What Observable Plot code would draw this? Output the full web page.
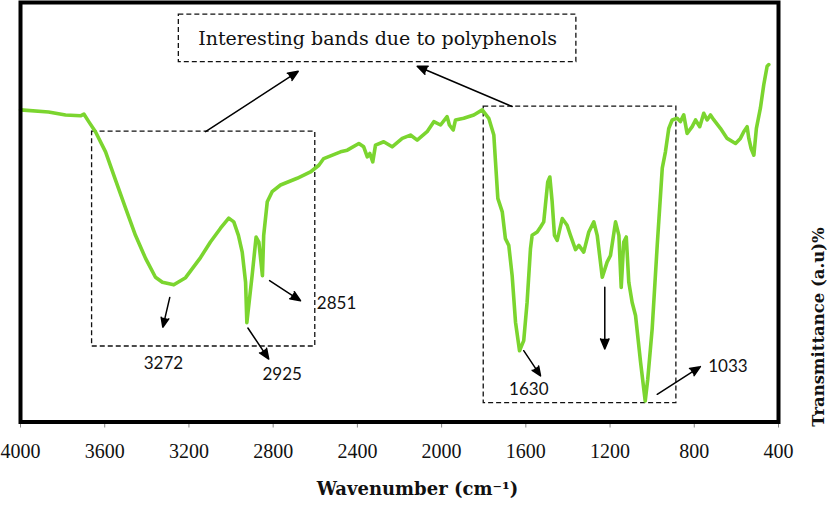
<!DOCTYPE html>
<html>
<head>
<meta charset="utf-8">
<script src="https://cdn.jsdelivr.net/npm/d3@7"></script>
<script src="https://cdn.jsdelivr.net/npm/@observablehq/plot@0.6"></script>
<style>
  html, body { margin: 0; padding: 0; background: #fff; }
  #chart svg { display: block; }
</style>
</head>
<body>
<div id="chart"></div>
<script>
// ---- FTIR spectrum ----
const wavenumber = [
  4000, 3867, 3786, 3715, 3699, 3676, 3644, 3596, 3549, 3501, 3454, 3406, 3359, 3326, 3272,
  3216, 3145, 3098, 3050, 3011, 2987, 2965, 2947, 2931, 2925, 2900, 2881, 2868, 2851, 2845,
  2828, 2805, 2765, 2686, 2623, 2583, 2560, 2480, 2448, 2393, 2370, 2353, 2341, 2327, 2314,
  2275, 2235, 2187, 2148, 2116, 2069, 2037, 2005, 1974, 1963, 1945, 1934, 1895, 1847, 1807,
  1776, 1752, 1744, 1733, 1712, 1697, 1681, 1665, 1649, 1630, 1610, 1594, 1578, 1570, 1546,
  1530, 1515, 1507, 1496, 1486, 1475, 1464, 1451, 1427, 1404, 1388, 1364, 1348, 1325, 1301,
  1277, 1261, 1237, 1214, 1198, 1174, 1158, 1147, 1135, 1123, 1111, 1095, 1079, 1055, 1033,
  1021, 1000, 976, 952, 937, 921, 905, 881, 866, 850, 834, 810, 794, 774, 755,
  739, 723, 707, 676, 644, 604, 581, 565, 549, 541, 530, 517, 505, 486, 470,
  454, 446
];
const transmittance = [
  74.4, 73.9, 73.2, 73.0, 73.4, 71.6, 69.2, 64.4, 57.7, 51.0, 44.5, 39.0, 34.5, 33.3, 32.7,
  34.4, 39.2, 42.9, 46.2, 48.6, 47.7, 44.5, 40.5, 33.3, 23.7, 34.9, 44.1, 42.9, 34.9, 44.5,
  52.5, 54.9, 56.5, 58.1, 59.6, 61.2, 62.8, 64.4, 64.8, 66.4, 65.6, 63.2, 64.0, 62.0, 66.0,
  66.8, 65.6, 67.6, 68.4, 67.2, 69.2, 71.6, 70.8, 72.8, 70.8, 69.6, 72.0, 72.4, 73.2, 74.4,
  72.4, 68.4, 62.0, 53.3, 50.1, 43.7, 42.1, 34.9, 23.8, 17.0, 19.4, 28.5, 41.3, 44.5, 45.3,
  46.5, 47.7, 51.7, 57.2, 58.4, 52.5, 44.5, 43.3, 48.5, 46.9, 44.5, 41.1, 42.1, 40.5, 45.3,
  47.7, 44.5, 34.5, 38.1, 39.7, 47.7, 44.5, 32.1, 42.9, 44.1, 33.3, 28.5, 25.4, 14.2, 5.0,
  10.2, 22.2, 42.1, 60.5, 64.4, 70.0, 72.0, 72.4, 71.6, 73.2, 68.8, 70.4, 72.0, 70.4, 73.6,
  72.0, 73.2, 72.0, 70.0, 67.6, 66.4, 67.6, 69.2, 70.4, 67.6, 65.2, 63.6, 70.0, 74.8, 80.4,
  84.8, 85.2
];

// ---- x-axis ticks ----
const xTicks = [4000, 3600, 3200, 2800, 2400, 2000, 1600, 1200, 800, 400];

// ---- annotation: dashed boxes (wavenumber from/to, transmittance from/to) ----
const boxW1 = [3660, 1800, 3248];
const boxW2 = [2600, 885, 1360];
const boxT1 = [18.0, 4.5, 85.8];
const boxT2 = [69.2, 75.2, 97.1];

// ---- annotation: arrows ----
const arrowW1 = [3121, 1665, 3291, 2920, 2817, 1610, 1225, 976];
const arrowT1 = [69.2, 75.2, 29.7, 22.4, 33.7, 17.0, 32.1, 6.6];
const arrowW2 = [2681, 2116, 3324, 2821, 2670, 1530, 1225, 771];
const arrowT2 = [83.6, 84.8, 22.6, 15.0, 28.9, 11.0, 17.4, 13.2];

// ---- annotation: band labels ----
const bandLabels = ["3272", "2925", "2851", "1630", "1033"];
const bandLabelW = [3321, 2757, 2499, 1586, 640];
const bandLabelT = [13.9, 11.4, 28.2, 7.8, 13.2];

const noteText = "Interesting bands due to polyphenols";
const noteW = 2304;
const noteT = 91.4;

const xTitle = "Wavenumber (cm\u207B\u00B9)";
const yTitle = "Transmittance (a.u)%";

// ---- build tables ----
const spectrum = wavenumber.map((w, i) => ({w, t: transmittance[i]}));
const boxes = boxW1.map((_, i) => ({x1: boxW1[i], x2: boxW2[i], y1: boxT1[i], y2: boxT2[i]}));
const arrows = arrowW1.map((_, i) => ({x1: arrowW1[i], y1: arrowT1[i], x2: arrowW2[i], y2: arrowT2[i]}));
const labels = bandLabels.map((s, i) => ({text: s, w: bandLabelW[i], t: bandLabelT[i]}));

const chart = Plot.plot({
  width: 827,
  height: 505,
  marginLeft: 20,
  marginRight: 49,
  marginTop: 2,
  marginBottom: 83.5,
  x: {domain: [4000, 400], axis: null},
  y: {domain: [0, 100], axis: null},
  style: {background: "#fff", color: "#000"},
  marks: [
    Plot.rect(boxes, {x1: "x1", x2: "x2", y1: "y1", y2: "y2", fill: "none", stroke: "#111",
      strokeWidth: 1.3, strokeDasharray: "5,3"}),
    Plot.line(spectrum, {x: "w", y: "t", stroke: "#7bd52f", strokeWidth: 3.6,
      strokeLinejoin: "round", strokeLinecap: "round"}),
    Plot.arrow(arrows, {x1: "x1", y1: "y1", x2: "x2", y2: "y2", stroke: "#000", fill: "#000",
      strokeWidth: 1.5, headLength: 11, headAngle: 45}),
    Plot.text(labels, {x: "w", y: "t", text: "text", fontFamily: "Lato, 'Open Sans', sans-serif",
      fontSize: 17, fill: "#111"}),
    Plot.text([noteText], {x: () => noteW, y: () => noteT, text: d => d,
      fontFamily: "'DejaVu Serif', serif", fontSize: 19, fill: "#111"}),
    Plot.axisX({ticks: xTicks, tickFormat: d3.format("d"), tickSize: 6, tickPadding: 16,
      fontSize: 20, fontFamily: "'Liberation Serif', serif", stroke: "#888", fill: "#111", label: null}),
    Plot.text([xTitle], {frameAnchor: "bottom", dx: 18, dy: 73, text: d => d,
      fontFamily: "'DejaVu Serif', serif", fontWeight: "bold", fontSize: 18, fill: "#111"}),
    Plot.text([yTitle], {frameAnchor: "right", dx: 40, dy: 15, rotate: -90, text: d => d,
      fontFamily: "'DejaVu Serif', serif", fontWeight: "bold", fontSize: 16.5, fill: "#111"}),
    Plot.frame({stroke: "#000", strokeWidth: 4})
  ]
});
document.getElementById("chart").appendChild(chart);
</script>
</body>
</html>
